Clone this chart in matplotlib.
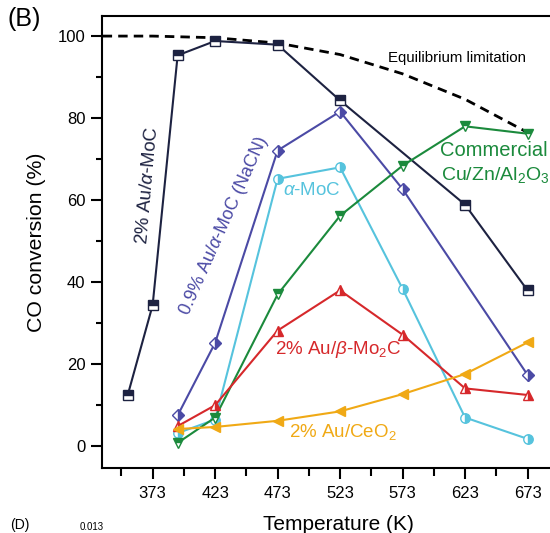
import matplotlib
matplotlib.use("Agg")
import matplotlib.pyplot as plt

plt.rcParams['font.family'] = ['Liberation Sans', 'DejaVu Sans']
plt.rcParams['mathtext.fontset'] = 'custom'
plt.rcParams['mathtext.rm'] = 'Liberation Sans'
plt.rcParams['mathtext.it'] = 'Liberation Sans:italic'

# Data
t_au_amoc = [353, 373, 393, 423, 473, 523, 623, 673]
v_au_amoc = [12.4, 34.4, 95.3, 98.8, 97.9, 84.3, 58.9, 38.0]

t_nacn = [393, 423, 473, 523, 573, 673]
v_nacn = [7.5, 25.2, 72.1, 81.6, 62.7, 17.4]

t_amoc = [393, 423, 473, 523, 573, 623, 673]
v_amoc = [3.2, 6.5, 65.2, 68.0, 38.4, 7.0, 1.8]

t_cuzn = [393, 423, 473, 523, 573, 623, 673]
v_cuzn = [0.8, 7.0, 37.0, 56.2, 68.4, 78.0, 76.2]

t_bmo2c = [393, 423, 473, 523, 573, 623, 673]
v_bmo2c = [4.9, 10.0, 28.2, 38.0, 27.2, 14.1, 12.5]

t_ceo2 = [393, 423, 473, 523, 573, 623, 673]
v_ceo2 = [4.2, 4.7, 6.2, 8.5, 12.7, 17.6, 25.3]

t_eq = [333, 373, 423, 473, 523, 573, 623, 673]
v_eq = [100.0, 100.0, 99.6, 98.3, 95.5, 90.8, 84.6, 76.5]

xticks = [373, 423, 473, 523, 573, 623, 673]
yticks = [0, 20, 40, 60, 80, 100]

c_navy = '#1d2241'
c_purple = '#4b4aa5'
c_cyan = '#56c3dd'
c_green = '#1b8a3c'
c_red = '#d6282b'
c_orange = '#f0a915'

fig = plt.figure(figsize=(5.5, 5.33), dpi=100)
ax = fig.add_axes([0.1855, 0.122, 0.86, 0.848])

ax.plot(t_eq, v_eq, color='black', lw=2.0, dashes=(3.4, 2.2), zorder=1)

ms = 6.8
mew = 1.0
ax.plot(t_au_amoc, v_au_amoc, color=c_navy, lw=1.5, marker='s', ms=ms,
        fillstyle='top', markerfacecoloralt='white', mec=c_navy, mew=mew, zorder=3)
ax.plot(t_nacn, v_nacn, color=c_purple, lw=1.5, marker='D', ms=ms - 0.5,
        fillstyle='right', markerfacecoloralt='white', mec=c_purple, mew=mew, zorder=3)
ax.plot(t_amoc, v_amoc, color=c_cyan, lw=1.5, marker='o', ms=ms,
        fillstyle='right', markerfacecoloralt='white', mec=c_cyan, mew=mew, zorder=3)
ax.plot(t_cuzn, v_cuzn, color=c_green, lw=1.5, marker='v', ms=ms + 0.5,
        fillstyle='top', markerfacecoloralt='white', mec=c_green, mew=mew, zorder=3)
ax.plot(t_bmo2c, v_bmo2c, color=c_red, lw=1.5, marker='^', ms=ms + 0.5,
        fillstyle='right', markerfacecoloralt='white', mec=c_red, mew=mew, zorder=3)
ax.plot(t_ceo2, v_ceo2, color=c_orange, lw=1.5, marker='<', ms=ms + 0.5,
        mfc=c_orange, mec=c_orange, mew=mew, zorder=3)

ax.set_xlim(332.5, 711)
ax.set_ylim(-5.3, 104.9)

ax.set_xticks(xticks)
ax.set_xticks([348 + 50 * i for i in range(7)], minor=True)
ax.set_yticks(yticks)
ax.set_yticks([10, 30, 50, 70, 90], minor=True)
ax.tick_params(axis='both', which='major', direction='out', length=8, width=1.5,
               labelsize=12, pad=4)
ax.tick_params(axis='y', which='minor', direction='out', length=4, width=1.5)
ax.tick_params(axis='x', which='minor', direction='out', length=6, width=1.5)
ax.tick_params(axis='x', which='major', pad=5)
for s in ax.spines.values():
    s.set_linewidth(1.5)
ax.spines['right'].set_visible(False)

ax.set_xlabel('Temperature (K)', fontsize=15, labelpad=10)
ax.set_ylabel('CO conversion (%)', fontsize=15.3, labelpad=8)

# Annotations
def px(x, y):
    return (x / 550.0, 1 - y / 533.0)

fig.text(*px(24, 19), '(B)', fontsize=18, ha='center', va='center')
fig.text(*px(148, 186), r'2% Au/$\alpha$-MoC', color=c_navy, fontsize=13.5,
         rotation=85, ha='center', va='center')
fig.text(*px(224, 226), r'0.9% Au/$\alpha$-MoC (NaCN)', color=c_purple, fontsize=13,
         rotation=66, ha='center', va='center')
fig.text(*px(312, 190), r'$\alpha$-MoC', color=c_cyan, fontsize=13.5,
         ha='center', va='center')
fig.text(*px(494, 151), 'Commercial', color=c_green, fontsize=14.5,
         ha='center', va='center')
fig.text(*px(495, 175), r'Cu/Zn/Al$_2$O$_3$', color=c_green, fontsize=14,
         ha='center', va='center')
fig.text(*px(338, 350), r'2% Au/$\beta$-Mo$_2$C', color=c_red, fontsize=13.5,
         ha='center', va='center')
fig.text(*px(343, 432), r'2% Au/CeO$_2$', color=c_orange, fontsize=13.5,
         ha='center', va='center')
fig.text(*px(457, 58), 'Equilibrium limitation', color='black', fontsize=10.8,
         ha='center', va='center')
fig.text(*px(20, 532), '(D)', fontsize=10, ha='center', va='bottom')
fig.text(*px(92, 532), '0.013', fontsize=7, ha='center', va='bottom')

fig.savefig('out.png', dpi=100)
